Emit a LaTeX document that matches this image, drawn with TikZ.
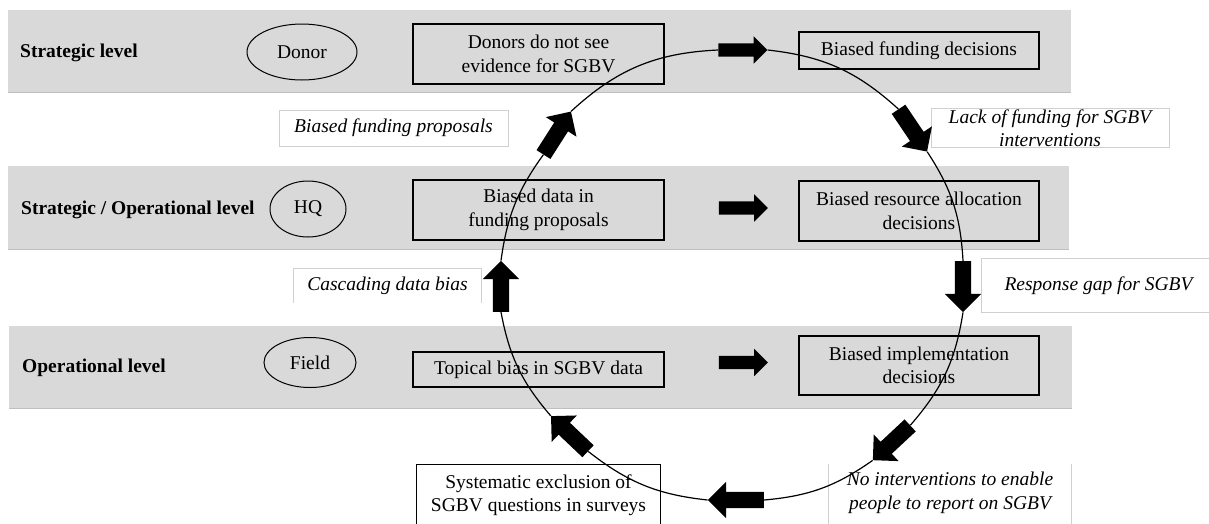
\documentclass[tikz,border=0pt]{standalone}
\usepackage{fontspec}
\setmainfont{Liberation Serif}
\usetikzlibrary{shapes.geometric,shapes.arrows}
\definecolor{bandfill}{HTML}{D9D9D9}
\definecolor{bandedge}{HTML}{BFBFBF}
\definecolor{lbledge}{HTML}{D0D0D0}
\begin{document}
\begin{tikzpicture}[x=1pt,y=-1pt,
  every node/.style={font=\fontsize{19.5}{23.5}\selectfont},
  bandbox/.style={fill=bandfill,inner sep=0pt},
  box/.style={draw=black,line width=1.3pt,inner sep=0pt,align=center,fill=bandfill},
  lvl/.style={anchor=west,font=\fontsize{19.5}{23.5}\selectfont\bfseries,inner sep=0pt},
  org/.style={draw=black,line width=1pt,ellipse,inner sep=0pt},
  lbl/.style={inner sep=0pt,align=center,font=\fontsize{19.5}{23.5}\selectfont\itshape},
  lbledgestyle/.style={draw=lbledge,line width=0.9pt},
  blk/.style={single arrow,fill=black,draw=none,inner xsep=0pt,inner ysep=6.5pt,
    single arrow head extend=7pt,single arrow head indent=0pt,minimum height=49pt},
  bigblk/.style={blk,inner ysep=8pt,single arrow head extend=10pt,minimum height=51pt},
  ring/.style={line width=1.2pt}
]
\clip (0,0) rectangle (1209,523);
% bands
\node[bandbox,minimum width=1063pt,minimum height=82pt] (band1) at (539.5,51) {};
\node[bandbox,minimum width=1061pt,minimum height=83pt] (band2) at (538.5,207.5) {};
\node[bandbox,minimum width=1063pt,minimum height=82pt] (band3) at (540.5,367) {};
\foreach \b in {band1,band2,band3}{\draw[bandedge,line width=1pt] (\b.south west) -- (\b.south east);}
% level labels
\node[lvl] (l1) at (20,53) {Strategic level};
\node[lvl] (l2) at (21,210) {Strategic / Operational level};
\node[lvl] (l3) at (22,368) {Operational level};
% ellipses
\node[org,minimum width=110pt,minimum height=56pt] (donor) at (302,52) {Donor};
\node[org,minimum width=76pt,minimum height=56pt] (hq) at (308,209) {HQ};
\node[org,minimum width=92pt,minimum height=50pt] (field) at (310,362.5) {Field};
% boxes
\node[box,minimum width=251pt,minimum height=60pt] (donors) at (538.5,54) {Donors do not see\\evidence for SGBV};
\node[box,minimum width=240pt,minimum height=37pt] (bfd) at (919,50.5) {Biased funding decisions};
\node[box,minimum width=251pt,minimum height=60pt] (bdata) at (538.5,210) {Biased data in\\funding proposals};
\node[box,minimum width=240pt,minimum height=60pt] (bra) at (919,211) {Biased resource allocation\\decisions};
\node[box,minimum width=251pt,minimum height=35pt] (topical) at (538.5,369.5) {Topical bias in SGBV data};
\node[box,minimum width=240pt,minimum height=59pt] (bimpl) at (919,365.5) {Biased implementation\\decisions};
\node[inner sep=0pt,align=center,fill=white,minimum width=243pt,minimum height=60pt] (syst) at (538.5,495) {Systematic exclusion of\\SGBV questions in surveys};
\draw[line width=1.3pt] (syst.south west) -- (syst.north west) -- (syst.north east) -- (syst.south east);
% italic labels
\node[lbl,lbledgestyle,fill=white,minimum width=229pt,minimum height=36pt] (bfp) at (393.5,128) {Biased funding proposals};
\node[lbl,lbledgestyle,fill=white,minimum width=238pt,minimum height=39pt] (lof) at (1050,128) {Lack of funding for SGBV\\interventions};
\node[lbl,minimum width=187pt,minimum height=34pt] (casc) at (387.5,286) {Cascading data bias};
\draw[lbledgestyle] (casc.south west) -- (casc.north west) -- (casc.north east) -- (casc.south east);
\node[lbl,minimum width=233pt,minimum height=53pt] (resp) at (1098.5,285.5) {Response gap for SGBV};
\draw[lbledgestyle] (resp.north east) -- (resp.north west) -- (resp.south west) -- (resp.south east);
\node[lbl,minimum width=242pt] (noint) at (950,493) {No interventions to enable\\people to report on SGBV};
\draw[lbledgestyle] ([yshift=29pt]noint.west) -- ([yshift=-40pt]noint.west);
\draw[lbledgestyle] ([yshift=29pt]noint.east) -- ([yshift=-40pt]noint.east);
% arrows on the cycle
\node[blk] (a1) at (739.5,50) {};
\node[bigblk,rotate=-56] (a2) at (910.5,127) {};
\node[bigblk,rotate=-90] (a3) at (963,282.5) {};
\node[bigblk,rotate=-137] (a4) at (894.5,440) {};
\node[bigblk,rotate=180,minimum height=56pt] (a5) at (740,500) {};
\node[bigblk,rotate=136.5] (a6) at (572.5,436.5) {};
\node[bigblk,rotate=90] (a7) at (501,290.5) {};
\node[bigblk,rotate=57.4] (a8) at (555,136.5) {};
% horizontal arrows
\node[blk] (m1) at (740,208) {};
\node[blk] (m2) at (740,362.5) {};
% ring segments
\draw[ring] (a1.tip) to[bend left=18] (a2.tail);
\draw[ring] (a2.tip) to[bend left=15] (a3.tail);
\draw[ring] (a3.tip) to[bend left=16] (a4.tail);
\draw[ring] (a4.tip) to[bend left=15] (a5.tail);
\draw[ring] (a5.tip) to[bend left=16] (a6.tail);
\draw[ring] (a6.tip) to[bend left=15] (a7.tail);
\draw[ring] (a7.tip) to[bend left=14] (a8.tail);
\draw[ring] (a8.tip) to[bend left=20] (a1.tail);
\end{tikzpicture}
\end{document}
